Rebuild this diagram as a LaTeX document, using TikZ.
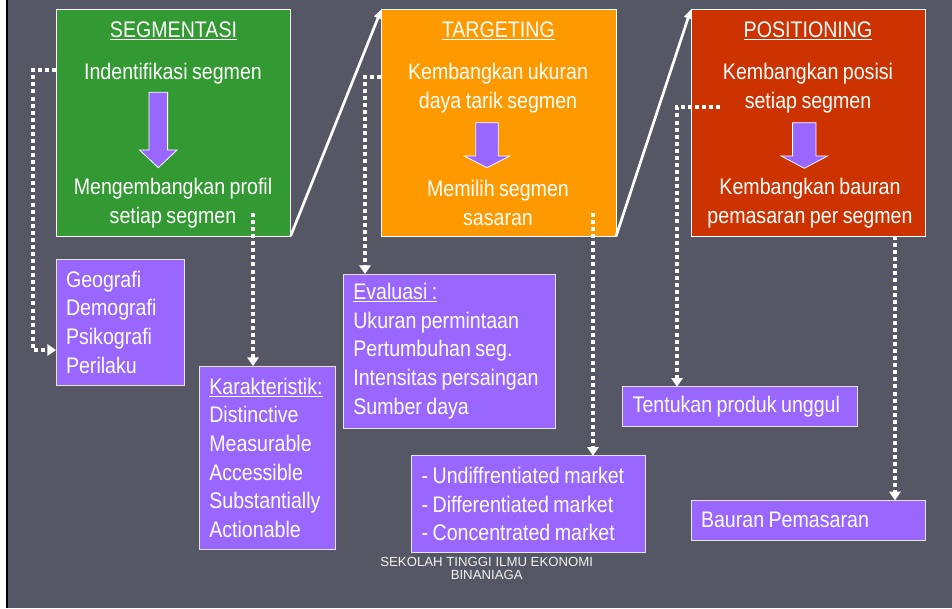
\documentclass[tikz,border=0pt]{standalone}
\usepackage{fontspec}
\setmainfont[FakeStretch=0.87,WordSpace=0.82]{Liberation Sans}
\newfontfamily\footfont{Liberation Sans}
\usepackage{tikz}
\usetikzlibrary{arrows.meta}

\definecolor{slidebg}{RGB}{86,87,101}
\definecolor{seggreen}{RGB}{51,153,51}
\definecolor{tgtorange}{RGB}{255,153,0}
\definecolor{posred}{RGB}{204,51,0}
\definecolor{listpurple}{RGB}{153,102,255}

\newcommand\boxfont{\fontsize{16.9}{21.5}\selectfont}

\begin{document}
\begin{tikzpicture}[x=0.75pt,y=-0.75pt,
    mainbox/.style={draw=white, line width=0.7pt, minimum width=176pt, minimum height=170pt, inner sep=0pt, outer sep=0pt},
    boxtext/.style={text=white, font=\boxfont, align=center, inner sep=0pt},
    listbox/.style={draw=white!80!gray, line width=0.7pt, fill=listpurple, text=white, font=\boxfont, anchor=north west, align=flush left, inner xsep=7.5pt, inner ysep=0pt, outer sep=0pt},
    blockarr/.style={fill=listpurple, draw=white, line width=0.6pt},
    flowarr/.style={white, line width=2pt, -{Triangle[length=7pt,width=6pt]}},
    dotarr/.style={white, line width=2.5pt, dash pattern=on 3pt off 2.3pt, -{Triangle[length=6.5pt,width=8.5pt]}}]

    % Slide background
    \useasboundingbox (0,0) rectangle (952,608);
    \fill[slidebg] (0,0) rectangle (952,608);
    \fill[white] (0,0) rectangle (6,608);
    \fill[black] (6,0) rectangle (8.3,608);

    % Segmentasi
    \node[mainbox, fill=seggreen] (seg) at (173.3,122.7) {};
    \node[boxtext] (segtitle) at (173.5,31) {\underline{SEGMENTASI}};
    \node[boxtext] (segtop) at (173,74) {Indentifikasi segmen};
    \node[boxtext] (segbot) at (173,203) {Mengembangkan profil\\setiap segmen};
    \draw[blockarr] (149,92.3) -- (167.6,92.3) -- (167.6,150) -- (177,150) -- (158.3,167.7) -- (139.6,150) -- (149,150) -- cycle;

    % Targeting
    \node[mainbox, fill=tgtorange] (tgt) at (498.8,122.7) {};
    \node[boxtext] (tgttitle) at (498.3,31) {\underline{TARGETING}};
    \node[boxtext] (tgttop) at (498,88) {Kembangkan ukuran\\daya tarik segmen};
    \node[boxtext] (tgtbot) at (498,203) {Memilih segmen\\sasaran};
    \draw[blockarr] (475.7,122.7) -- (498.3,122.7) -- (498.3,156) -- (509.8,156) -- (487,167.7) -- (464.2,156) -- (475.7,156) -- cycle;

    % Positioning
    \node[mainbox, fill=posred] (pos) at (808.3,122.7) {};
    \node[boxtext] (postitle) at (808,31) {\underline{POSITIONING}};
    \node[boxtext] (postop) at (808,88) {Kembangkan posisi\\setiap segmen};
    \node[boxtext] (posbot) at (810,203) {Kembangkan bauran\\pemasaran per segmen};
    \draw[blockarr] (792.6,122.7) -- (816,122.7) -- (816,156) -- (827.5,156) -- (804.3,168.3) -- (781.1,156) -- (792.6,156) -- cycle;

    % Lists
    \node[listbox, text width=81.2pt, minimum height=94.5pt] (geo) at (56,259) {Geografi\\Demografi\\Psikografi\\Perilaku};
    \node[listbox, text width=87.3pt, minimum height=137.8pt] (kar) at (199.3,366) {\underline{Karakteristik:}\\Distinctive\\Measurable\\Accessible\\Substantially\\Actionable};
    \node[listbox, text width=143.8pt, minimum height=115.7pt] (eva) at (343.3,274) {\underline{Evaluasi :}\\Ukuran permintaan\\Pertumbuhan seg.\\Intensitas persaingan\\Sumber daya};
    \node[listbox, text width=160.5pt, minimum height=72.5pt] (mkt) at (411.7,455.7) {- Undiffrentiated market\\- Differentiated market\\- Concentrated market};
    \node[listbox, text width=161.3pt, minimum height=30pt] (ten) at (622.7,386.7) {Tentukan produk unggul};
    \node[listbox, text width=161pt, minimum height=30pt] (bau) at (691,500.3) {Bauran Pemasaran};

    % Flow arrows
    \draw[flowarr] (seg.south east) -- (tgt.north west);
    \draw[flowarr] (tgt.south east) -- (pos.north west);

    % Dotted links
    \coordinate (segL) at (33,70);
    \coordinate (geoL) at (33,350);
    \coordinate (segK) at (253,213);
    \coordinate (tgtL) at (365,77);
    \coordinate (tgtM) at (593,213);
    \coordinate (posS) at (720,107);
    \coordinate (posL) at (677,107);
    \coordinate (posB) at (895,236);
    \draw[dotarr] (seg.west |- segL) -- (segL) -- (geoL) -- (geo.west |- geoL);
    \draw[dotarr] (segK) -- (kar.north -| segK);
    \draw[dotarr] (tgt.west |- tgtL) -- (tgtL) -- (eva.north -| tgtL);
    \draw[dotarr] (tgtM) -- (mkt.north -| tgtM);
    \draw[dotarr] (posS) -- (posL) -- (ten.north -| posL);
    \draw[dotarr] (pos.south -| posB) -- (bau.north -| posB);

    % Footer
    \node[text=white!90!gray, font=\footfont\fontsize{9.9}{10}\selectfont, align=center] (foot) at (486.7,568.5) {SEKOLAH TINGGI ILMU EKONOMI\\BINANIAGA};

\end{tikzpicture}
\end{document}
